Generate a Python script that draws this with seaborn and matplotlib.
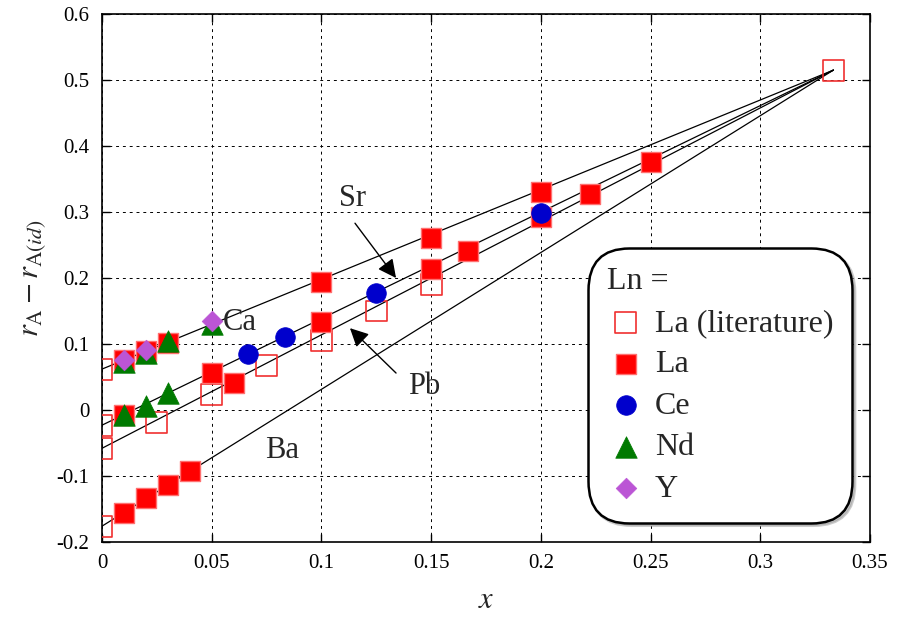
import numpy as np
import pandas as pd
import matplotlib
matplotlib.use("Agg")
import matplotlib.pyplot as plt
from matplotlib.ticker import FuncFormatter, MultipleLocator
import seaborn as sns

# literature values (open squares), incl. common end point at x = 1/3
lit_x = [0, 0, 0, 0, 0.025, 0.05, 0.075, 0.1, 0.125, 0.15, 1 / 3]
lit_y = [0.061, -0.023, -0.058, -0.176, -0.019, 0.023, 0.067, 0.105, 0.150, 0.190, 0.515]

# La (filled squares)
la_x = [0.01, 0.02, 0.03, 0.1, 0.15, 0.2,
        0.01, 0.05, 0.1, 0.15, 0.2, 0.25,
        0.06, 1 / 6, 2 / 9,
        0.01, 0.02, 0.03, 0.04]
la_y = [0.076, 0.089, 0.102, 0.194, 0.260, 0.331,
        -0.008, 0.056, 0.134, 0.214, 0.292, 0.375,
        0.041, 0.241, 0.327,
        -0.156, -0.134, -0.113, -0.092]

# Ce (circles)
ce_x = [1 / 15, 1 / 12, 0.125, 0.2]
ce_y = [0.085, 0.111, 0.178, 0.298]

# Nd (triangles)
nd_x = [0.01, 0.02, 0.03, 0.05, 0.01, 0.02, 0.03]
nd_y = [0.072, 0.087, 0.104, 0.130, -0.008, 0.006, 0.025]

# Y (diamonds)
y_x = [0.01, 0.02, 0.05]
y_y = [0.075, 0.091, 0.135]

# guide lines: intercept at x=0, all meeting at (1/3, 0.515)
line_names = ["Ca", "Sr", "Pb", "Ba"]
line_b = [0.062, -0.023, -0.058, -0.176]
end_x, end_y = 1 / 3, 0.515

sns.set_style("ticks")
plt.rcParams["font.family"] = ["Liberation Serif", "DejaVu Serif"]
plt.rcParams["mathtext.fontset"] = "stix"
plt.rcParams["axes.unicode_minus"] = False

fig = plt.figure(figsize=(8.98, 6.19), dpi=100)
ax = fig.add_axes([0.1136, 0.1244, 0.8552, 0.853])

for b in line_b:
    ax.plot([0, end_x], [b, end_y], color="black", lw=0.9, zorder=2)

sns.scatterplot(x=lit_x, y=lit_y, marker="s", s=225, facecolors="none",
                edgecolor="#F03030", linewidth=1.2, label="La (literature)",
                ax=ax, zorder=3)
sns.scatterplot(x=la_x, y=la_y, marker="s", s=225, color="#FF0000",
                edgecolor="#FF7070", linewidth=1.0, label="La", ax=ax, zorder=4)
sns.scatterplot(x=ce_x, y=ce_y, marker="o", s=200, color="#0000CC",
                edgecolor="#0000CC", linewidth=0.5, label="Ce", ax=ax, zorder=7)
sns.scatterplot(x=nd_x, y=nd_y, marker="^", s=240, color="#007A00",
                edgecolor="#007A00", linewidth=0.5, label="Nd", ax=ax, zorder=5)
sns.scatterplot(x=y_x, y=y_y, marker="D", s=110, color="#BB55D5",
                edgecolor="#BB55D5", linewidth=0.5, label="Y", ax=ax, zorder=6)

# labels and arrows
ax.text(0.063, 0.132, "Ca", fontsize=22, ha="center", va="center")
ax.text(0.082, -0.061, "Ba", fontsize=22, ha="center", va="center")
ax.text(0.114, 0.321, "Sr", fontsize=22, ha="center", va="center")
ax.text(0.147, 0.036, "Pb", fontsize=22, ha="center", va="center")
arrow = dict(arrowstyle="-|>", color="black", lw=1.0, mutation_scale=28,
             shrinkA=0, shrinkB=0)
ax.annotate("", xy=(0.134, 0.200), xytext=(0.1153, 0.283), arrowprops=arrow)
ax.annotate("", xy=(0.113, 0.124), xytext=(0.134, 0.056), arrowprops=arrow)

ax.set_xlim(0, 0.35)
ax.set_ylim(-0.2, 0.6)
ax.xaxis.set_major_locator(MultipleLocator(0.05))
ax.yaxis.set_major_locator(MultipleLocator(0.1))
fmt = FuncFormatter(lambda v, p: "%g" % round(v, 3))
ax.xaxis.set_major_formatter(fmt)
ax.yaxis.set_major_formatter(fmt)
ax.tick_params(direction="in", top=True, right=True, length=6, width=1,
               labelsize=15, pad=9, colors="black")
ax.grid(True, color="black", linestyle=(0, (3, 4)), lw=0.7)
ax.set_axisbelow(True)
for sp in ax.spines.values():
    sp.set_linewidth(1.2)
    sp.set_color("black")

ax.set_xlabel("$x$", fontsize=22, labelpad=9)
ax.set_ylabel(r"$r_{\mathrm{A}} - r_{\mathrm{A}(id)}$", fontsize=22, labelpad=6)

leg = ax.legend(title="Ln =", loc="lower right", bbox_to_anchor=(0.977, 0.036),
                fontsize=23, title_fontsize=23, frameon=True, fancybox=True,
                shadow={"color": "0.6", "alpha": 0.5}, framealpha=1,
                edgecolor="black", labelspacing=0.38, handletextpad=0.3,
                handlelength=1.2, borderpad=0.6, borderaxespad=0)
leg._legend_box.align = "left"
frame = leg.get_frame()
frame.set_linewidth(1.8)
frame.set_boxstyle("round", pad=0, rounding_size=1.3)
leg.set_zorder(10)

fig.savefig("out.png", dpi=100)
